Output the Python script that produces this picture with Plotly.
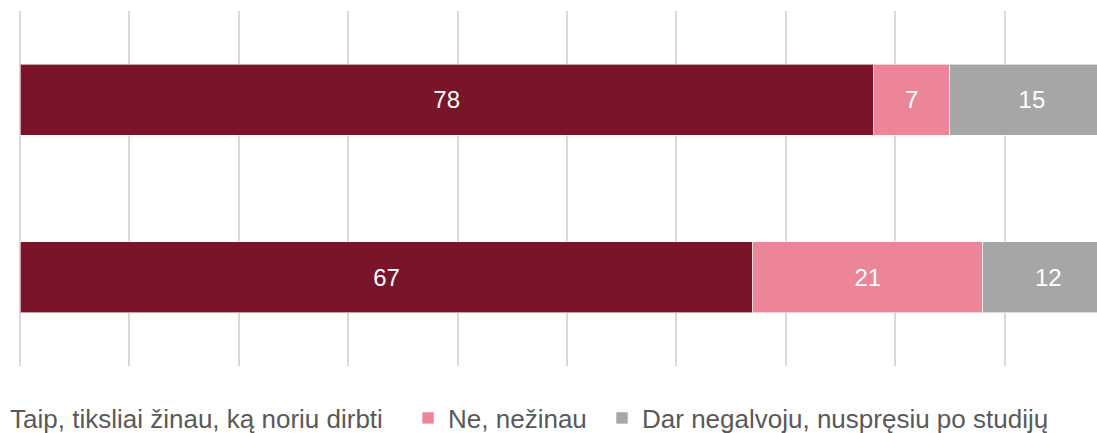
import plotly.graph_objects as go

categories = ["A", "B"]
series_names = ["Taip, tiksliai žinau, ką noriu dirbti", "Ne, nežinau", "Dar negalvoju, nuspręsiu po studijų"]
taip = [78, 67]
ne = [7, 21]
dar = [15, 12]
colors = ["#7a1428", "#eb8597", "#a6a6a6"]
legend_ids = ["legend", "legend2", "legend3"]
legend_x = [-0.0464, 0.3603, 0.5404]

fig = go.Figure()
for name, vals, col, lid in zip(series_names, [taip, ne, dar], colors, legend_ids):
    fig.add_trace(go.Bar(
        y=categories, x=vals, name=name, orientation="h", legend=lid,
        marker=dict(color=col, line=dict(color="rgba(255,255,255,0.6)", width=1)),
        text=[str(v) for v in vals], textposition="inside", insidetextanchor="middle",
        textfont=dict(color="white", size=24, family="Liberation Sans, Arial"),
        hoverinfo="skip",
    ))

legend_common = dict(orientation="h", xanchor="left", y=-0.1465, yanchor="middle",
                     font=dict(size=26, color="#595959", family="Liberation Sans, Arial"),
                     bgcolor="rgba(0,0,0,0)", borderwidth=0)

fig.update_layout(
    barmode="stack",
    bargap=0.6,
    width=1097, height=433,
    margin=dict(l=20, r=0, t=11, b=67, autoexpand=False),
    paper_bgcolor="white", plot_bgcolor="white",
    font=dict(family="Liberation Sans, Arial", color="#595959"),
    showlegend=True,
    legend=dict(x=legend_x[0], **legend_common),
    legend2=dict(x=legend_x[1], **legend_common),
    legend3=dict(x=legend_x[2], **legend_common),
    xaxis=dict(range=[0, 98.45], dtick=10, showgrid=True, gridcolor="#d9d9d9", gridwidth=1.5,
               zeroline=True, zerolinecolor="#d9d9d9", zerolinewidth=1.5,
               showticklabels=False, showline=False, fixedrange=True),
    yaxis=dict(autorange="reversed", showticklabels=False, showgrid=False, zeroline=False,
               showline=False, fixedrange=True),
)

fig.write_html(
    "out.html",
    config={"displayModeBar": False},
    post_script="document.body.style.margin='0';document.documentElement.style.overflow='hidden';document.body.style.overflow='hidden';",
)
